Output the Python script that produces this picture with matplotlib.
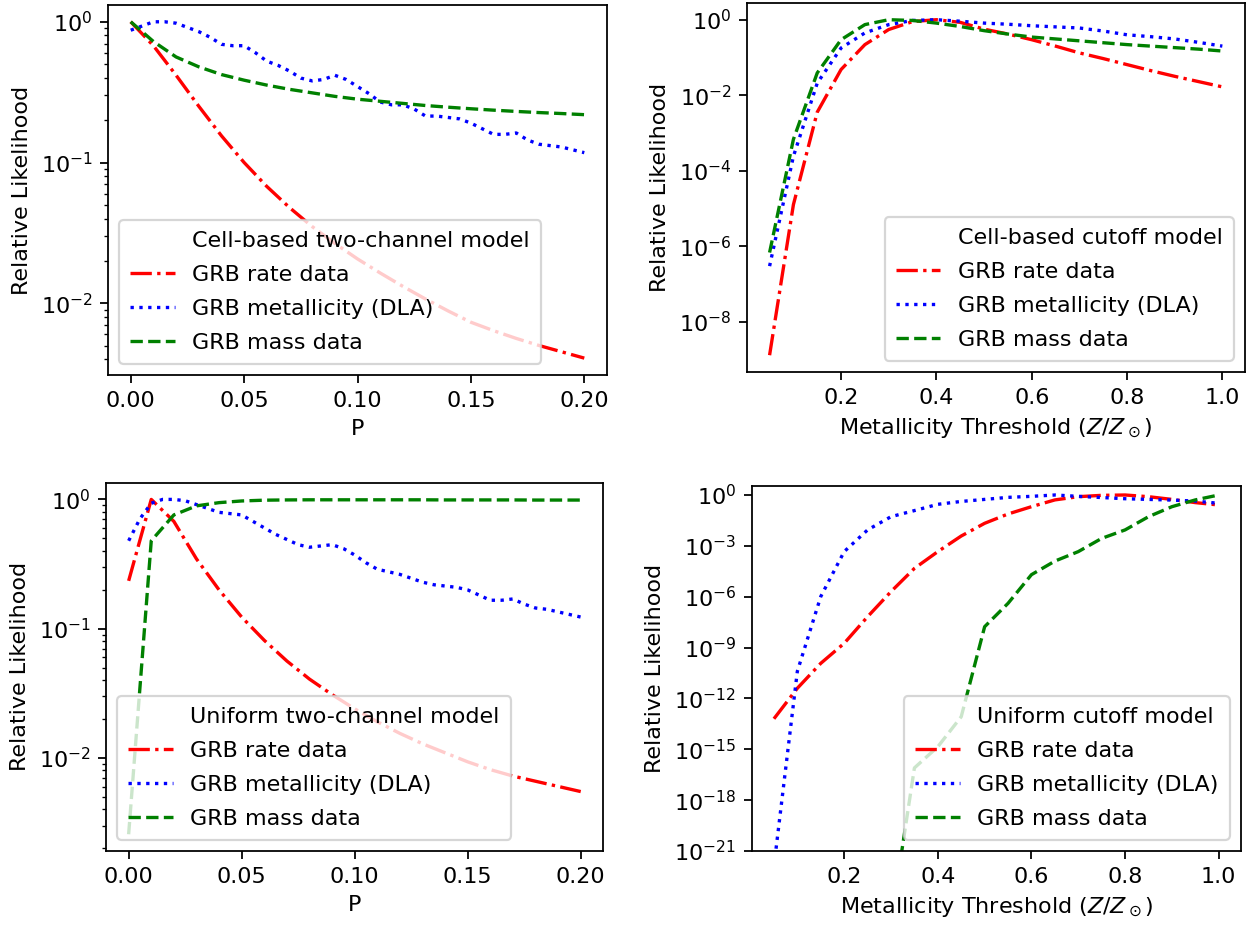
import numpy as np
import matplotlib
matplotlib.use('Agg')
import matplotlib.pyplot as plt

# ---- data (values given as log10 of the relative likelihood) ----
p_coarse = [0.00, 0.01, 0.02, 0.03, 0.04, 0.05, 0.06, 0.07, 0.08, 0.09, 0.10,
            0.11, 0.12, 0.13, 0.14, 0.15, 0.16, 0.17, 0.18, 0.19, 0.20]
p_fine = [0.000, 0.005, 0.010, 0.015, 0.020, 0.025, 0.030, 0.035, 0.040, 0.045,
          0.050, 0.055, 0.060, 0.065, 0.070, 0.075, 0.080, 0.085, 0.090, 0.095,
          0.100, 0.105, 0.110, 0.115, 0.120, 0.125, 0.130, 0.135, 0.140, 0.145,
          0.150, 0.155, 0.160, 0.165, 0.170, 0.175, 0.180, 0.185, 0.190, 0.195, 0.200]
z_thresh = [0.05, 0.10, 0.15, 0.20, 0.25, 0.30, 0.35, 0.40, 0.45, 0.50,
            0.55, 0.60, 0.65, 0.70, 0.75, 0.80, 0.85, 0.90, 0.95, 1.00]

# cell-based two-channel model
cell2_rate = [0.0, -0.17, -0.38, -0.60, -0.81, -1.00, -1.17, -1.32, -1.455, -1.575, -1.685,
              -1.785, -1.88, -1.97, -2.055, -2.135, -2.195, -2.25, -2.30, -2.345, -2.39]
cell2_met = [-0.06, -0.03, 0.0, 0.0, -0.01, -0.04, -0.07, -0.11, -0.16, -0.17,
             -0.17, -0.22, -0.28, -0.31, -0.35, -0.40, -0.42, -0.41, -0.38, -0.41,
             -0.46, -0.51, -0.57, -0.59, -0.59, -0.62, -0.67, -0.67, -0.68, -0.69,
             -0.72, -0.76, -0.80, -0.80, -0.79, -0.84, -0.87, -0.88, -0.89, -0.91, -0.93]
cell2_mass = [0.0, -0.14, -0.25, -0.32, -0.375, -0.415, -0.45, -0.48, -0.505, -0.53, -0.55,
              -0.565, -0.58, -0.595, -0.607, -0.618, -0.628, -0.637, -0.645, -0.652, -0.66]

# uniform two-channel model
uni2_rate = [-0.63, 0.0, -0.17, -0.46, -0.70, -0.91, -1.09, -1.25, -1.39, -1.51, -1.62,
             -1.72, -1.81, -1.89, -1.96, -2.03, -2.09, -2.14, -2.18, -2.22, -2.26]
uni2_met = [-0.32, -0.15, -0.03, 0.0, 0.0, -0.01, -0.04, -0.07, -0.10, -0.11,
            -0.12, -0.17, -0.22, -0.27, -0.31, -0.35, -0.37, -0.36, -0.35, -0.38,
            -0.43, -0.49, -0.54, -0.56, -0.58, -0.61, -0.64, -0.66, -0.67, -0.68,
            -0.70, -0.74, -0.78, -0.78, -0.77, -0.81, -0.84, -0.85, -0.87, -0.89, -0.91]
uni2_mass = [-2.59, -0.32, -0.12, -0.05, -0.025, -0.012, -0.006, -0.004, -0.003, -0.003, -0.003,
             -0.003, -0.003, -0.003, -0.004, -0.004, -0.004, -0.004, -0.005, -0.005, -0.005]

# cell-based cutoff model
cellc_rate = [-8.89, -4.90, -2.45, -1.32, -0.66, -0.26, -0.05, 0.0, -0.07, -0.25,
              -0.38, -0.53, -0.70, -0.88, -1.03, -1.19, -1.35, -1.50, -1.64, -1.78]
cellc_met = [-6.53, -3.62, -1.68, -0.75, -0.35, -0.13, -0.02, 0.0, -0.04, -0.09,
             -0.12, -0.16, -0.19, -0.22, -0.30, -0.40, -0.45, -0.51, -0.60, -0.70]
cellc_mass = [-6.17, -3.17, -1.41, -0.53, -0.13, 0.0, -0.02, -0.09, -0.18, -0.29,
              -0.38, -0.46, -0.51, -0.56, -0.61, -0.66, -0.70, -0.74, -0.78, -0.83]

# uniform cutoff model
unic_rate = [-13.2, -11.4, -9.93, -8.75, -7.18, -5.70, -4.33, -3.34, -2.42, -1.67,
             -1.12, -0.69, -0.29, -0.10, -0.02, 0.0, -0.10, -0.26, -0.45, -0.59]
unic_met = [-21.9, -10.4, -5.99, -3.34, -2.06, -1.28, -0.92, -0.55, -0.38, -0.26,
            -0.14, -0.08, 0.0, -0.08, -0.15, -0.22, -0.26, -0.30, -0.36, -0.49]
unic_mass = [-60.0, -52.0, -45.0, -38.0, -31.0, -25.2, -16.1, -14.85, -13.08, -7.77,
             -6.39, -4.70, -3.90, -3.34, -2.56, -2.06, -1.28, -0.69, -0.29, 0.0]


def lik(v):
    return np.power(10.0, np.array(v))


fig = plt.figure(figsize=(7.825, 5.794), dpi=160)
ax_tl = fig.add_axes([0.0863, 0.5955, 0.3985, 0.3991])
ax_tr = fig.add_axes([0.5966, 0.5987, 0.3978, 0.3981])
ax_bl = fig.add_axes([0.0847, 0.0820, 0.3972, 0.3973])
ax_br = fig.add_axes([0.6004, 0.0820, 0.3908, 0.3937])

zlabel = r'Metallicity Threshold ($Z/Z_\odot$)'
panels = [
    (ax_tl, 'Cell-based two-channel model', p_coarse, p_fine,
     cell2_rate, cell2_met, cell2_mass, 'P', 'lower left'),
    (ax_bl, 'Uniform two-channel model', p_coarse, p_fine,
     uni2_rate, uni2_met, uni2_mass, 'P', 'lower left'),
    (ax_tr, 'Cell-based cutoff model', z_thresh, z_thresh,
     cellc_rate, cellc_met, cellc_mass, zlabel, 'lower right'),
    (ax_br, 'Uniform cutoff model', z_thresh, z_thresh,
     unic_rate, unic_met, unic_mass, zlabel, 'lower right'),
]

for ax, title, x1, x2, rate, met, mass, xlabel, loc in panels:
    ax.plot([], [], ' ', label=title)  # blank entry acts as legend heading
    ax.semilogy(x1, lik(rate), 'r-.', label='GRB rate data')
    ax.semilogy(x2, lik(met), 'b:', label='GRB metallicity (DLA)')
    ax.semilogy(x1, lik(mass), 'g--', label='GRB mass data')
    ax.set_xlabel(xlabel)
    ax.set_ylabel('Relative Likelihood')
    ax.legend(loc=loc, labelspacing=0.62, borderpad=0.5)

# very small values of the uniform cutoff model are clipped
ax_br.set_ylim(1e-21, 10 ** 0.53)

fig.savefig('out.png', dpi=160)
